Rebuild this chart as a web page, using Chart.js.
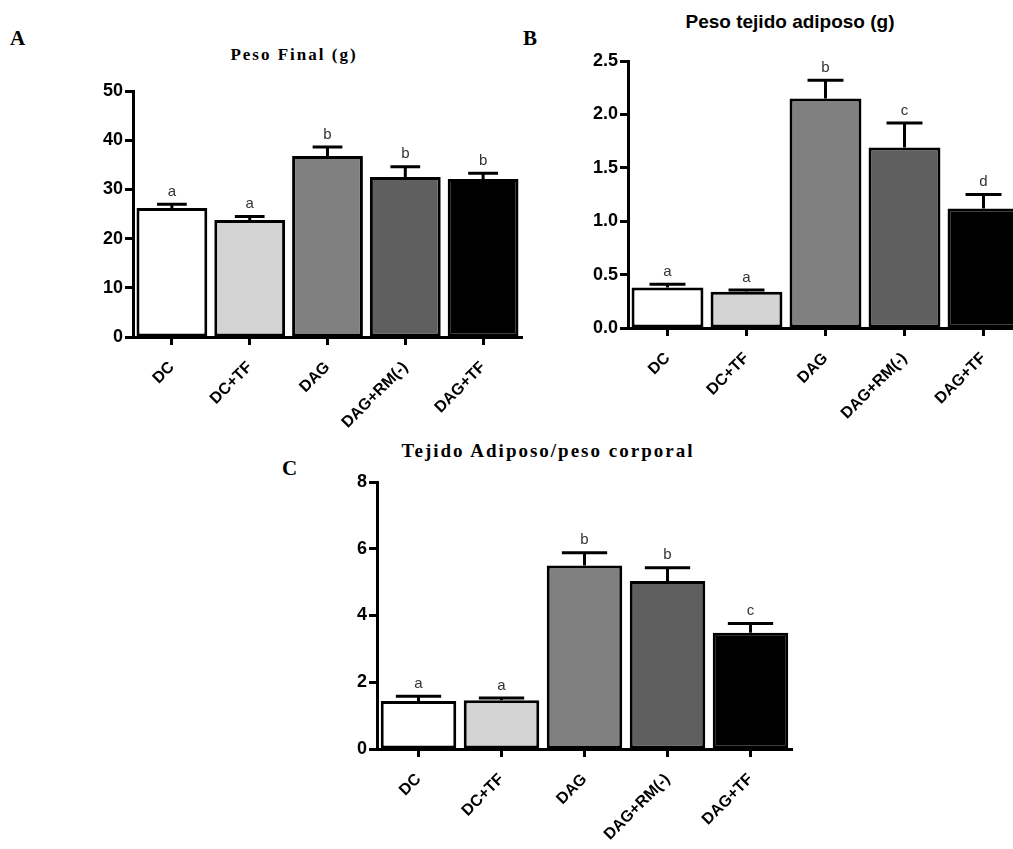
<!DOCTYPE html>
<html>
<head>
<meta charset="utf-8">
<script src="https://cdn.jsdelivr.net/npm/chart.js@4.4.1/dist/chart.umd.min.js"></script>
<style>
  html, body { margin: 0; padding: 0; width: 1013px; height: 849px; overflow: hidden; background: #fff; }
  canvas { position: absolute; }
  .panel { position: absolute; font: bold 21px "Liberation Serif", serif; line-height: 1; color: #000; }
  .title { position: absolute; transform: translateX(-50%); white-space: nowrap; line-height: 1; color: #000; }
  .serif { font-family: "Liberation Serif", serif; font-weight: bold; }
  .sans { font-family: "Liberation Sans", Arial, sans-serif; font-weight: bold; }
</style>
</head>
<body>
<div class="panel" style="left:10px; top:28px;">A</div>
<div class="panel" style="left:523px; top:28px;">B</div>
<div class="panel" style="left:282px; top:458px;">C</div>

<div class="title serif" style="left:294px; top:46px; font-size:17px; letter-spacing:2px;">Peso Final (g)</div>
<div class="title sans" style="left:790px; top:12px; font-size:19px;">Peso tejido adiposo (g)</div>
<div class="title serif" style="left:548px; top:441px; font-size:19px; letter-spacing:2px;">Tejido Adiposo/peso corporal</div>

<canvas id="chartA" width="540" height="380" style="left:0px; top:60px;"></canvas>
<canvas id="chartB" width="540" height="380" style="left:500px; top:40px;"></canvas>
<canvas id="chartC" width="560" height="409" style="left:250px; top:440px;"></canvas>

<script>
const groups = ['DC', 'DC+TF', 'DAG', 'DAG+RM(-)', 'DAG+TF'];
const barColors = ['#ffffff', '#d4d4d4', '#808080', '#5f5f5f', '#000000'];

// final body weight (g), mean and SEM
const finalWeight = [26.2, 23.8, 36.8, 32.5, 32.1];
const finalWeightSem = [0.8, 0.7, 1.8, 2.1, 1.2];
const finalWeightLetters = ['a', 'a', 'b', 'b', 'b'];

// adipose tissue weight (g)
const fatWeight = [0.38, 0.34, 2.15, 1.69, 1.12];
const fatWeightSem = [0.03, 0.015, 0.17, 0.23, 0.13];
const fatWeightLetters = ['a', 'a', 'b', 'c', 'd'];

// adipose tissue / body weight
const fatRatio = [1.44, 1.46, 5.5, 5.03, 3.48];
const fatRatioSem = [0.14, 0.07, 0.38, 0.4, 0.28];
const fatRatioLetters = ['a', 'a', 'b', 'b', 'c'];

// mean + SEM caps and the significance letters above them
const errorBars = {
  id: 'errorBars',
  afterDatasetsDraw(chart) {
    const ctx = chart.ctx;
    const ds = chart.data.datasets[0];
    const meta = chart.getDatasetMeta(0);
    const yScale = chart.scales.y;
    ctx.save();
    meta.data.forEach((bar, i) => {
      const top = yScale.getPixelForValue(ds.data[i] + ds.sem[i]);
      const half = bar.width * ds.capRatio / 2;
      ctx.strokeStyle = '#000';
      ctx.lineWidth = 3;
      ctx.beginPath();
      ctx.moveTo(bar.x, bar.y);
      ctx.lineTo(bar.x, top);
      ctx.moveTo(bar.x - half, top);
      ctx.lineTo(bar.x + half, top);
      ctx.stroke();
      ctx.fillStyle = '#333';
      ctx.font = '15px "Liberation Sans", Arial, sans-serif';
      ctx.textAlign = 'center';
      ctx.textBaseline = 'bottom';
      ctx.fillText(ds.letters[i], bar.x, top - 5);
    });
    ctx.restore();
  }
};

function drawPanel(id, values, sem, letters, yMax, yStep, decimals, capRatio, pad, xHeight) {
  return new Chart(document.getElementById(id), {
    type: 'bar',
    data: {
      labels: groups,
      datasets: [{
        data: values,
        sem: sem,
        letters: letters,
        capRatio: capRatio,
        backgroundColor: barColors,
        borderColor: '#000',
        borderWidth: 3,
        borderSkipped: false,
        barPercentage: 0.91,
        categoryPercentage: 1.0,
      }],
    },
    options: {
      responsive: false,
      animation: false,
      devicePixelRatio: 1,
      layout: { padding: pad },
      plugins: {
        legend: { display: false },
        tooltip: { enabled: false },
      },
      scales: {
        x: {
          offset: true,
          border: { display: true, color: '#000', width: 3 },
          grid: { offset: false, drawOnChartArea: false, drawTicks: true, tickLength: 8, tickWidth: 3, tickColor: '#000' },
          ticks: {
            color: '#000',
            font: { family: '"Liberation Sans", Arial, sans-serif', size: 16, weight: 'bold' },
            minRotation: 45,
            maxRotation: 45,
            padding: 13,
          },
          afterFit: (axis) => { axis.height = xHeight; },
        },
        y: {
          min: 0,
          max: yMax,
          border: { display: true, color: '#000', width: 3 },
          grid: { drawOnChartArea: false, drawTicks: true, tickLength: 8, tickWidth: 3, tickColor: '#000' },
          ticks: {
            stepSize: yStep,
            color: '#000',
            padding: 2,
            font: { family: '"Liberation Sans", Arial, sans-serif', size: 18, weight: 'bold' },
            callback: (v) => v.toFixed(decimals),
          },
          afterFit: (axis) => { axis.width = 52; },
        },
      },
    },
    plugins: [errorBars],
  });
}

drawPanel('chartA', finalWeight, finalWeightSem, finalWeightLetters, 50, 10, 0, 0.42,
  { left: 81, top: 31, right: 18, bottom: 0 }, 103);
drawPanel('chartB', fatWeight, fatWeightSem, fatWeightLetters, 2.5, 0.5, 1, 0.5,
  { left: 76, top: 21, right: 17, bottom: 0 }, 92);
drawPanel('chartC', fatRatio, fatRatioSem, fatRatioLetters, 8, 2, 0, 0.6,
  { left: 75, top: 42, right: 18, bottom: 0 }, 100);
</script>
</body>
</html>
